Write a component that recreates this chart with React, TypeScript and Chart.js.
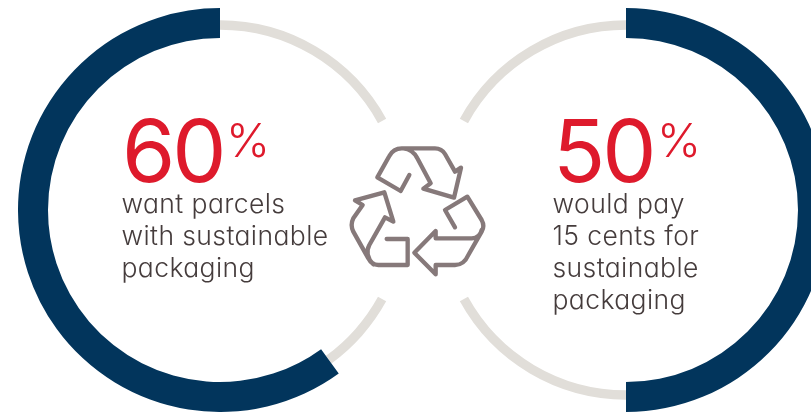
import React, { useEffect, useRef } from "react";
import { Chart, registerables } from "chart.js";

Chart.register(...registerables);

const NAVY = "#02355C";
const TRACK = "#E1DED9";
const RED = "#DE1A2C";
const INK = "#453C3C";
const ICON = "#86797A";

const shareValues = [60, 50];
const shareCaptions = [
  ["want parcels", "with sustainable", "packaging"],
  ["would pay", "15 cents for", "sustainable", "packaging"],
];

// Thin track pieces in percent of the ring, clockwise from each ring's start angle.
const leftTrack = [17, 16, 7, 60];
const rightTrack = [17, 16, 17, 50];
const trackColours = [TRACK, "transparent", TRACK, "transparent"];
const trackRotations = [0, 180];
const shareRotations = [-216, 0];

const RING_OUTER = 202;
const RING_INNER = 172;
const TRACK_OUTER = 191;
const TRACK_INNER = 183;

const iconPaths = [
  "M208,135 L182,183 L112,142 L148,78 Q160,55 185,55 L285,55 Q305,55 315,72 L345,125 L363,113 L342,203 L250,176 L272,160 L232,85 Q218,57 190,55",
  "M140,327 L203,327 L203,405 L115,405 Q95,405 85,385 L40,305 Q30,285 40,265 L68,225 L45,211 L133,187 L160,275 L135,262 L88,345 Q72,375 100,403",
  "M345,292 L315,240 L382,200 L425,270 Q435,288 425,305 L385,375 Q372,405 345,405 L287,405 L287,433 L223,368 L287,303 L287,325 L395,325 Q420,325 425,300",
];

function Ring({ index, left }: { index: number; left: number }) {
  const ref = useRef<HTMLCanvasElement>(null);

  useEffect(() => {
    const value = shareValues[index];
    // Doughnut rings share the radial band by weight, so each ring's radius and
    // cutout are widened to leave the wanted band once the band has been halved.
    const ringBand = RING_OUTER - RING_INNER;
    const trackBand = TRACK_OUTER - TRACK_INNER;
    const chart = new Chart(ref.current!, {
      type: "doughnut",
      data: {
        datasets: [
          {
            data: [value, 100 - value],
            backgroundColor: [NAVY, "transparent"],
            borderWidth: 0,
            rotation: shareRotations[index],
            radius: RING_OUTER,
            cutout: RING_OUTER - 2 * ringBand,
          } as any,
          {
            data: index === 0 ? leftTrack : rightTrack,
            backgroundColor: trackColours,
            borderWidth: 0,
            rotation: trackRotations[index],
            radius: TRACK_OUTER + trackBand,
            cutout: TRACK_INNER,
          } as any,
        ],
      },
      options: {
        animation: false,
        responsive: false,
        layout: { padding: 0 },
        plugins: { legend: { display: false }, tooltip: { enabled: false } },
      },
    });
    return () => chart.destroy();
  }, [index]);

  return (
    <canvas
      ref={ref}
      width={404}
      height={404}
      style={{ position: "absolute", left, top: 8, width: 404, height: 404 }}
    />
  );
}

function Caption({ index, left }: { index: number; left: number }) {
  return (
    <div style={{ position: "absolute", left, top: 0, fontFamily: "Inter, sans-serif", fontFeatureSettings: '"cv11"' }}>
      <div style={{ position: "absolute", left: 0, top: 101, color: RED, fontSize: 86, lineHeight: "101px", fontWeight: 400, letterSpacing: "-3px", whiteSpace: "nowrap" }}>
        {shareValues[index]}
        <span style={{ position: "absolute", left: 104, top: -12, fontSize: 47, fontWeight: 300, letterSpacing: 0 }}>%</span>
      </div>
      <div style={{ position: "absolute", left: -0.5, top: 187, color: INK, fontSize: 26.5, lineHeight: "32px", fontWeight: 300, letterSpacing: "0.4px", whiteSpace: "nowrap" }}>
        {shareCaptions[index].map((line) => (
          <div key={line}>{line}</div>
        ))}
      </div>
    </div>
  );
}

export default function App() {
  return (
    <div style={{ position: "fixed", left: 0, top: 0, width: 811, height: 412, overflow: "hidden", background: "#fff" }}>
      <Ring index={0} left={18} />
      <Ring index={1} left={424} />
      <svg viewBox="0 0 480 450" style={{ position: "absolute", left: 340, top: 130, width: 160, height: 150 }}>
        {iconPaths.map((d) => (
          <path key={d} d={d} fill="none" stroke={ICON} strokeWidth={13} strokeLinejoin="round" strokeLinecap="round" />
        ))}
      </svg>
      <Caption index={0} left={122} />
      <Caption index={1} left={553} />
    </div>
  );
}
